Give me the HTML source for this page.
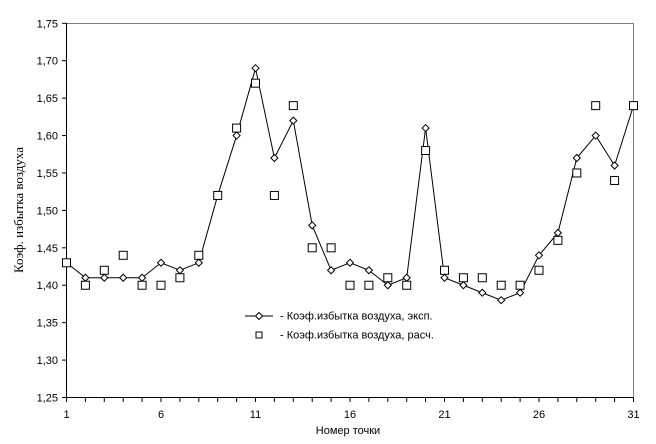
<!DOCTYPE html>
<html><head><meta charset="utf-8"><style>
body{margin:0;background:#fff}
svg{display:block}
text{font-family:"Liberation Sans",sans-serif;font-size:11px;fill:#000}
</style></head><body>
<svg width="656" height="444" xmlns="http://www.w3.org/2000/svg" id="s">
<rect width="656" height="444" fill="#fff"/>
<polyline points="66.5,23.5 633.5,23.5 633.5,397.5" fill="none" stroke="#808080" stroke-width="1"/>
<line x1="66.5" y1="23" x2="66.5" y2="398" stroke="#000"/>
<line x1="62" y1="397.5" x2="634" y2="397.5" stroke="#000"/>
<g id="g"></g>
<text x="348" y="434" text-anchor="middle" font-size="12">Номер точки</text>
<text transform="translate(23,210) rotate(-90)" text-anchor="middle" style="font-family:'Liberation Serif',serif;font-size:13px">Коэф. избытка воздуха</text>
<line x1="245" y1="316" x2="273" y2="316" stroke="#000"/>
<path d="M259,312.5 L262.5,316 L259,319.5 L255.5,316Z" fill="#fff" stroke="#000"/>
<text x="280" y="319.5" font-size="10">- Коэф.избытка воздуха, эксп.</text>
<rect x="256" y="332" width="6" height="6" fill="#fff" stroke="#000"/>
<text x="280" y="338.5" font-size="10">- Коэф.избытка воздуха, расч.</text>
</svg>
<script>
var e=[1.43,1.41,1.41,1.41,1.41,1.43,1.42,1.43,1.52,1.60,1.69,1.57,1.62,1.48,1.42,1.43,1.42,1.40,1.41,1.61,1.41,1.40,1.39,1.38,1.39,1.44,1.47,1.57,1.60,1.56,1.64];
var c=[1.43,1.40,1.42,1.44,1.40,1.40,1.41,1.44,1.52,1.61,1.67,1.52,1.64,1.45,1.45,1.40,1.40,1.41,1.40,1.58,1.42,1.41,1.41,1.40,1.40,1.42,1.46,1.55,1.64,1.54,1.64];
function X(i){return 66.5+i*18.9}function Y(v){return 397.5-(v-1.25)*748.4}
var h='';
for(var k=0;k<=10;k++){var v=1.25+k*0.05,y=Y(v);h+='<line x1="62" y1="'+y+'" x2="66.5" y2="'+y+'" stroke="#000"/><text x="58" y="'+(y+4)+'" text-anchor="end">'+v.toFixed(2).replace('.',',')+'</text>';}
for(var i=0;i<31;i++){var x=X(i);h+='<line x1="'+x+'" y1="397.5" x2="'+x+'" y2="402" stroke="#000"/>';if(i%5==0)h+='<text x="'+x+'" y="418" text-anchor="middle">'+(i+1)+'</text>';}
h+='<polyline fill="none" stroke="#000" points="'+e.map(function(v,i){return X(i)+','+Y(v)}).join(' ')+'"/>';
e.forEach(function(v,i){var x=X(i),y=Y(v);h+='<path d="M'+x+','+(y-3.5)+' L'+(x+3.5)+','+y+' L'+x+','+(y+3.5)+' L'+(x-3.5)+','+y+'Z" fill="#fff" stroke="#000"/>';});
c.forEach(function(v,i){var x=X(i),y=Y(v);h+='<rect x="'+(x-4)+'" y="'+(y-4)+'" width="8" height="8" fill="#fff" stroke="#000"/>';});
document.getElementById('g').innerHTML=h;
</script>
</body></html>
